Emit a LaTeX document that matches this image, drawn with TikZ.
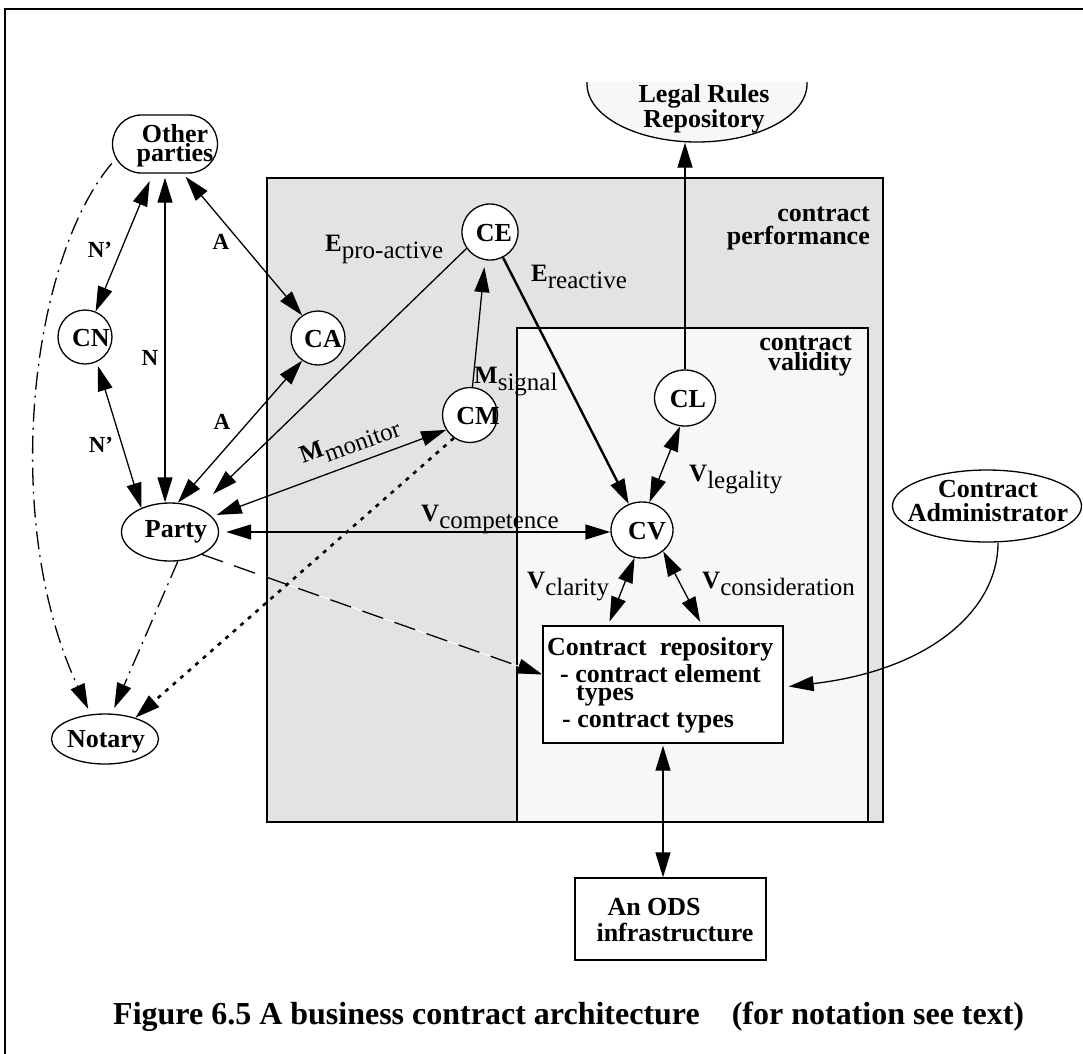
\documentclass[tikz,border=0pt]{standalone}
\usepackage{fontspec}
\setmainfont{Liberation Serif}
\usetikzlibrary{arrows.meta,shapes.geometric,calc}
\definecolor{perf}{RGB}{227,227,227}
\definecolor{valid}{RGB}{247,247,247}
% bold letter with a large roman subscript, e.g. V_competence
\newcommand\sublab[3][25]{\textbf{\fontsize{#1}{#1}\selectfont #2}\raisebox{-7pt}{\fontsize{25}{25}\selectfont #3}}
\begin{document}
\begin{tikzpicture}[x=1pt,y=-1pt,
  >={Triangle[length=25pt,width=15pt]},
  conn/.style={line width=1.3pt},
  bold/.style={font=\bfseries\fontsize{26}{23}\selectfont, inner sep=0pt},
  tag/.style={font=\bfseries\fontsize{23}{23}\selectfont, inner sep=0pt},
  sub/.style={anchor=base west, inner sep=0pt},
  circ/.style={circle, draw, line width=1.3pt, fill=white, inner sep=0pt},
  oval/.style={ellipse, draw, line width=1.3pt, fill=white, inner sep=0pt},
  boxnode/.style={rectangle, draw, line width=1.3pt, fill=white, inner sep=0pt}
]
\useasboundingbox (0,0) rectangle (1083,1053);
\fill[white] (0,0) rectangle (1083,1053);

% page frame
\draw[line width=2pt] (5,1070) -- (5,9) -- (1100,9);

% contract performance / contract validity areas
\fill[perf] (267,178) rectangle (883,822);
\draw[line width=1.2pt, fill=valid] (517,328) rectangle (868,822);
\draw[line width=2.6pt] (267,178) rectangle (883,822);

\node[bold, align=right, anchor=east] (perflbl) at (870,228) {contract\\performance};
\node[bold, align=right, anchor=east, font=\bfseries\fontsize{26}{18}\selectfont] (validlbl) at (852,356) {contract\\validity};

% legal rules repository (cut off at the top)
\begin{scope}
  \clip (560,82) rectangle (840,170);
  \node[oval, fill=valid, minimum width=220pt, minimum height=116pt] (lr) at (697,84) {};
\end{scope}
\node[bold, align=center] (lrtext) at (704,109) {Legal Rules\\Repository};

% nodes
\node[draw, line width=1.3pt, fill=white, rounded corners=29pt, minimum width=105pt, minimum height=58pt] (op) at (165,144) {};
\node[bold, align=center, font=\bfseries\fontsize{26}{17}\selectfont] (optext) at (175,146) {Other\\parties};

\node[circ, minimum size=54pt, label={[bold,xshift=6pt,yshift=-1pt]center:CN}] (cn) at (85,337) {};
\node[circ, minimum size=54pt, label={[bold,xshift=5pt,yshift=-1pt]center:CA}] (ca) at (318,338) {};
\node[circ, minimum size=56pt, label={[bold,xshift=4pt,yshift=-1pt]center:CE}] (ce) at (490,232) {};
\node[circ, minimum size=55pt, label={[bold,xshift=8pt,yshift=-1pt]center:CM}] (cm) at (470,415) {};
\node[oval, minimum width=61pt, minimum height=56pt, label={[bold,xshift=3pt,yshift=-1pt]center:CL}] (cl) at (685,398) {};
\node[oval, minimum width=62pt, minimum height=56pt, label={[bold,xshift=5pt,yshift=-1pt]center:CV}] (cv) at (642,530) {};
\node[oval, minimum width=97pt, minimum height=58pt, label={[bold,xshift=6pt]center:Party}] (party) at (170,532) {};
\node[oval, minimum width=107pt, minimum height=50pt, label={[bold,xshift=1pt,yshift=-3pt]center:Notary}] (notary) at (105,739) {};
\node[oval, minimum width=189pt, minimum height=72pt] (admin) at (987,506) {};
\node[bold, align=center, font=\bfseries\fontsize{26}{24}\selectfont] (admintext) at (988,501) {Contract\\Administrator};

\node[boxnode, minimum width=240pt, minimum height=117pt] (repo) at (663,684.5) {};
\node[bold, align=left, anchor=north west, font=\bfseries\fontsize{26}{27}\selectfont] (repotext) at (547,637)
  {Contract\ \ repository\\\hspace*{13pt}- contract element\\[-9pt]\hspace*{29pt}types\\\hspace*{15pt}- contract types};

\node[boxnode, minimum width=191pt, minimum height=82pt] (ods) at (670.5,919) {};
\node[bold, align=left, font=\bfseries\fontsize{26}{26}\selectfont] (odstext) at (675,920) {\hspace*{11pt}An ODS\\infrastructure};

% connectors
\draw[conn,<->,shorten >=8pt] (cn) -- (op);
\draw[conn,<->,shorten >=4pt] (op.south |- party.north) -- (op.south);
\draw[conn,<->,shorten <=4pt] ([xshift=18pt]op.south) -- (ca.125);
\draw[conn,<->,shorten <=4pt] (cn.-65) -- (party.140);
\draw[conn,<->] (party.75) -- (ca.-125);
\draw[conn,->,shorten >=20pt] (ce.215) -- (party.40);
\draw[conn,<->,shorten <=5pt] (party.20) -- (cm.212);
\draw[conn,<->,shorten <=7pt] (party.east) -- (cv.west |- party.east);
\draw[conn,->,shorten >=7pt] (cm.85) -- (ce.-100);
\draw[line width=2.4pt,->] (ce) -- (cv);
\draw[conn,<->] (cl.-100) -- (cv.75);
\draw[conn,<->,shorten >=4pt] (cv.-105) -- ([xshift=-55pt]repo.north);
\draw[conn,<->,shorten >=4pt] (cv.-45) -- ([xshift=39pt]repo.north);
\draw[conn,->] (cl.north) -- (cl.north |- lr.south);
\draw[conn,->] ([xshift=11pt]admin.south) .. controls (998,610) and (930,670) .. ([xshift=5pt,yshift=-2pt]repo.east);
\draw[conn,<->,shorten <=2pt] (repo.south) -- (repo.south |- ods.north);

% notary and repository links
\draw[white, line width=1pt] (party.-35) -- ([yshift=10pt]repo.west);
\draw[conn,->,dash pattern=on 22pt off 12pt] (party.-35) -- ([yshift=10pt]repo.west);
\draw[line width=2.6pt,->,dash pattern=on 4pt off 6pt] (cm.235) -- (notary.35);
\draw[conn,->,dash pattern=on 18pt off 6pt on 2pt off 6pt,shorten >=6pt] (party.-75) -- (notary.75);
\draw[conn,->,dash pattern=on 18pt off 6pt on 2pt off 6pt,shorten >=6pt] (op.200) .. controls (30,260) and (0,520) .. (notary.120);

% connector labels
\node[tag] (lnp1) at (100,250) {N’};
\node[tag] (ln) at (150,358) {N};
\node[tag] (la1) at (221,242) {A};
\node[tag] (lnp2) at (101,445) {N’};
\node[tag] (la2) at (222,422) {A};
\node[sub] (lepro) at (325,251) {\sublab{E}{pro-active}};
\node[sub] (lere) at (531,281) {\sublab{E}{reactive}};
\node[sub] (lmsig) at (474,383) {\sublab{M}{signal}};
\node[sub, rotate=20] (lmmon) at (303,464) {\sublab{M}{monitor}};
\node[sub] (lvcomp) at (421,521) {\sublab{V}{competence}};
\node[sub] (lvleg) at (689,481) {\sublab{V}{legality}};
\node[sub] (lvcla) at (527,588) {\sublab{V}{clarity}};
\node[sub] (lvcon) at (702,588) {\sublab{V}{consideration}};

% caption
\node[anchor=base west, inner sep=0pt, font=\bfseries\fontsize{32}{32}\selectfont] (caption) at (113,1024)
  {Figure 6.5 A business contract architecture\hspace{0.75em} (for notation see text)};
\end{tikzpicture}
\end{document}
